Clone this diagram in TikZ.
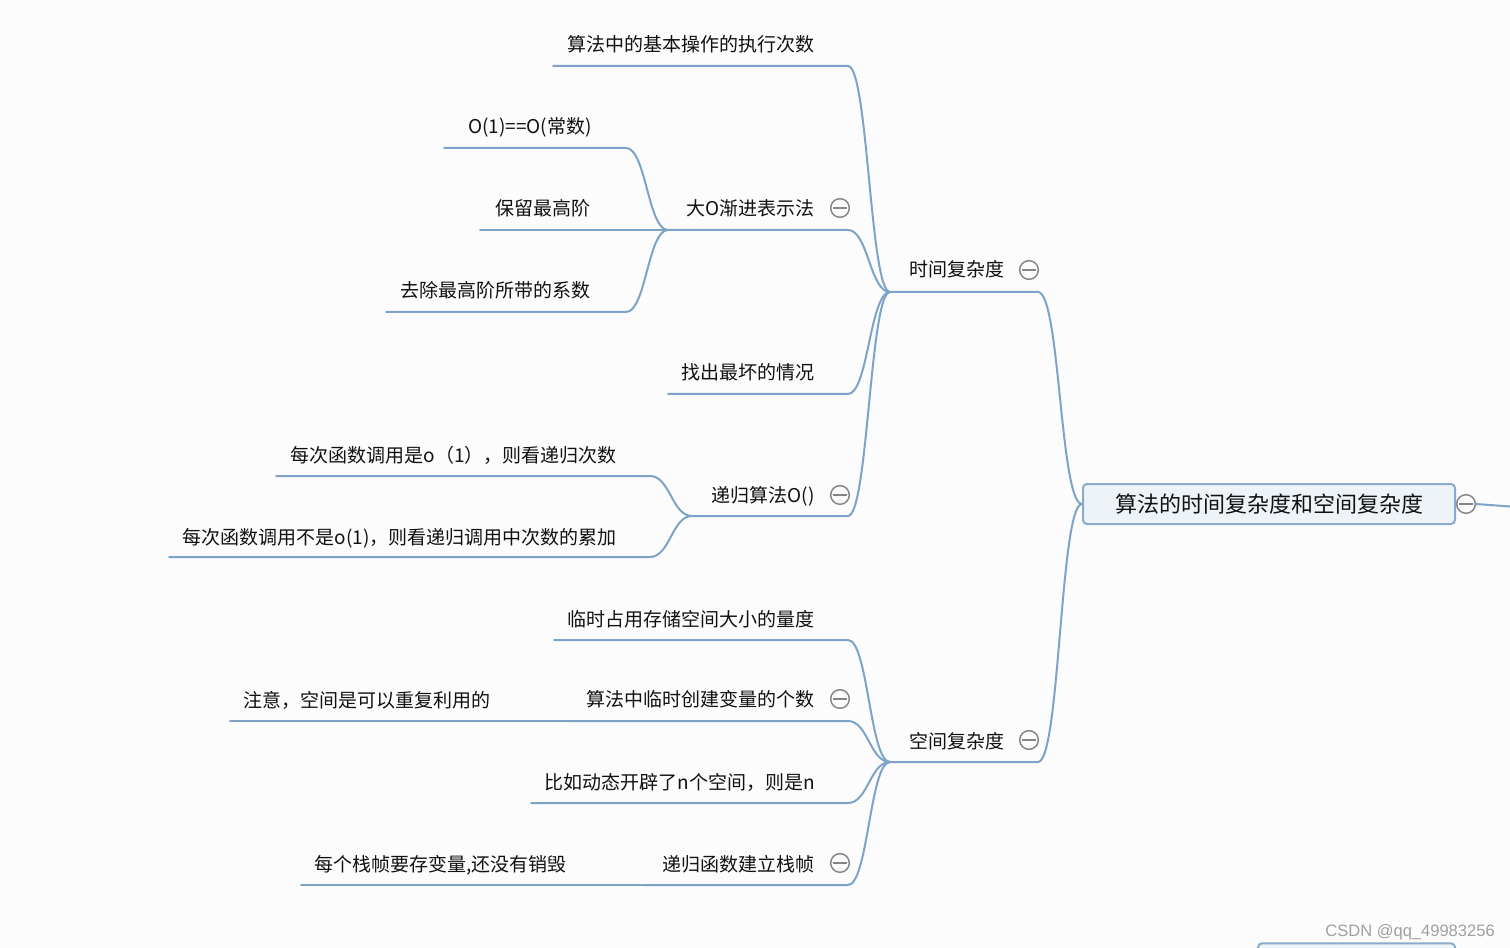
\documentclass[tikz,border=0pt]{standalone}
\usepackage{fontspec}
\setmainfont{Noto Sans CJK SC}
\newfontfamily\wmfont{Liberation Sans}
\definecolor{bgc}{HTML}{FCFCFC}
\definecolor{linkc}{HTML}{7DA4C8}
\definecolor{cgray}{HTML}{858585}
\definecolor{rootfill}{HTML}{EEF3F8}
\definecolor{rootdraw}{HTML}{8AACCB}
\definecolor{wmc}{HTML}{A0A0A0}
\definecolor{txt}{HTML}{111111}
\begin{document}
\begin{tikzpicture}[x=0.75pt,y=-0.75pt,
  topic/.style={anchor=base east, inner sep=0pt, text=txt, font=\fontsize{14.25pt}{17pt}\selectfont},
  rootbox/.style={draw=rootdraw, fill=rootfill, line width=1.5pt, rounded corners=3pt, inner sep=0pt, text=txt, font=\fontsize{16.5pt}{20pt}\selectfont},
  link/.style={draw=linkc, line width=1.5pt, line cap=round, line join=round},
  bez/.style={to path={.. controls +(20,0) and +(-20,0) .. (\tikztotarget)}},
  collapse/.style={circle, draw=cgray, fill=bgc, line width=1.1pt, minimum size=14pt, inner sep=0pt,
    path picture={\draw[cgray, line width=1.1pt] ([xshift=-5.2pt]path picture bounding box.center) -- ([xshift=5.2pt]path picture bounding box.center);}},
]
\fill[bgc] (0,0) rectangle (1510,948);
\useasboundingbox (0,0) rectangle (1510,948);
\clip (0,0) rectangle (1510,948);

% root
\node[rootbox, minimum width=279pt, minimum height=30pt] (root) at (1269,504) {算法的时间复杂度和空间复杂度};
\node[collapse] (rootC) at (1466,504) {};
\coordinate (outR) at (1530,508);
\draw[link] (rootC.east) -- (outR);
\node[rootbox, minimum width=147.75pt, minimum height=40pt] (nextroot) at (1356.5,970) {};

% level 1
\node[topic] (time) at (1005,277) {时间复杂度};
\coordinate (timeL) at (890,292);
\coordinate (timeR) at (1038,292);
\draw[link] (timeL) -- (timeR) .. controls +(22,0) and +(-22,0) .. (root.west);
\node[collapse] (timeC) at (1029,270) {};

\node[topic] (space) at (1005,748) {空间复杂度};
\coordinate (spaceL) at (890,762);
\coordinate (spaceR) at (1038,762);
\draw[link] (spaceL) -- (spaceR) .. controls +(22,0) and +(-22,0) .. (root.west);
\node[collapse] (spaceC) at (1029,740) {};

% time children
\node[topic] (a1) at (815,52) {算法中的基本操作的执行次数};
\coordinate (a1L) at (553,66); \coordinate (a1R) at (848,66);
\draw[link] (a1L) -- (a1R) to[bez] (timeL);

\node[topic] (a2) at (815,216) {大O渐进表示法};
\coordinate (a2L) at (668,230); \coordinate (a2R) at (848,230);
\draw[link] (a2L) -- (a2R) to[bez] (timeL);
\node[collapse] (a2C) at (840,208) {};

\node[topic] (a3) at (815,380) {找出最坏的情况};
\coordinate (a3L) at (668,394); \coordinate (a3R) at (848,394);
\draw[link] (a3L) -- (a3R) to[bez] (timeL);

\node[topic] (a4) at (815,502) {递归算法O()};
\coordinate (a4L) at (692,516); \coordinate (a4R) at (848,516);
\draw[link] (a4L) -- (a4R) to[bez] (timeL);
\node[collapse] (a4C) at (840,495) {};

% big-O children
\node[topic] (b1) at (592,134) {O(1)==O(常数)};
\coordinate (b1L) at (444,148); \coordinate (b1R) at (626,148);
\draw[link] (b1L) -- (b1R) to[bez] (a2L);

\node[topic] (b2) at (591,216) {保留最高阶};
\coordinate (b2L) at (480,230);
\draw[link] (b2L) -- (a2L);

\node[topic] (b3) at (591,298) {去除最高阶所带的系数};
\coordinate (b3L) at (386,312); \coordinate (b3R) at (626,312);
\draw[link] (b3L) -- (b3R) to[bez] (a2L);

% recursion children
\node[topic] (c1) at (617,462) {每次函数调用是o（1），则看递归次数};
\coordinate (c1L) at (276,476); \coordinate (c1R) at (650,476);
\draw[link] (c1L) -- (c1R) to[bez] (a4L);

\node[topic] (c2) at (617,544) {每次函数调用不是o(1)，则看递归调用中次数的累加};
\coordinate (c2L) at (169,557); \coordinate (c2R) at (650,557);
\draw[link] (c2L) -- (c2R) to[bez] (a4L);

% space children
\node[topic] (d1) at (815,626) {临时占用存储空间大小的量度};
\coordinate (d1L) at (554,640); \coordinate (d1R) at (848,640);
\draw[link] (d1L) -- (d1R) to[bez] (spaceL);

\node[topic] (d2) at (815,706) {算法中临时创建变量的个数};
\coordinate (d2L) at (568,721); \coordinate (d2R) at (848,721);
\draw[link] (d2L) -- (d2R) to[bez] (spaceL);
\node[collapse] (d2C) at (840,699) {};

\node[topic] (e1) at (491,707) {注意，空间是可以重复利用的};
\coordinate (e1L) at (230,721);
\draw[link] (e1L) -- (d2L);

\node[topic] (d3) at (815,789) {比如动态开辟了n个空间，则是n};
\coordinate (d3L) at (531,803); \coordinate (d3R) at (848,803);
\draw[link] (d3L) -- (d3R) to[bez] (spaceL);

\node[topic] (d4) at (815,871) {递归函数建立栈帧};
\coordinate (d4L) at (643,885); \coordinate (d4R) at (848,885);
\draw[link] (d4L) -- (d4R) to[bez] (spaceL);
\node[collapse] (d4C) at (840,863) {};

\node[topic] (e2) at (567,871) {每个栈帧要存变量,还没有销毁};
\coordinate (e2L) at (301,885);
\draw[link] (e2L) -- (d4L);

% watermark
\node[anchor=base east, inner sep=0pt, text=wmc, font=\wmfont\fontsize{12.4pt}{14pt}\selectfont] (wm) at (1495,936) {CSDN @qq\_49983256};
\end{tikzpicture}
\end{document}
